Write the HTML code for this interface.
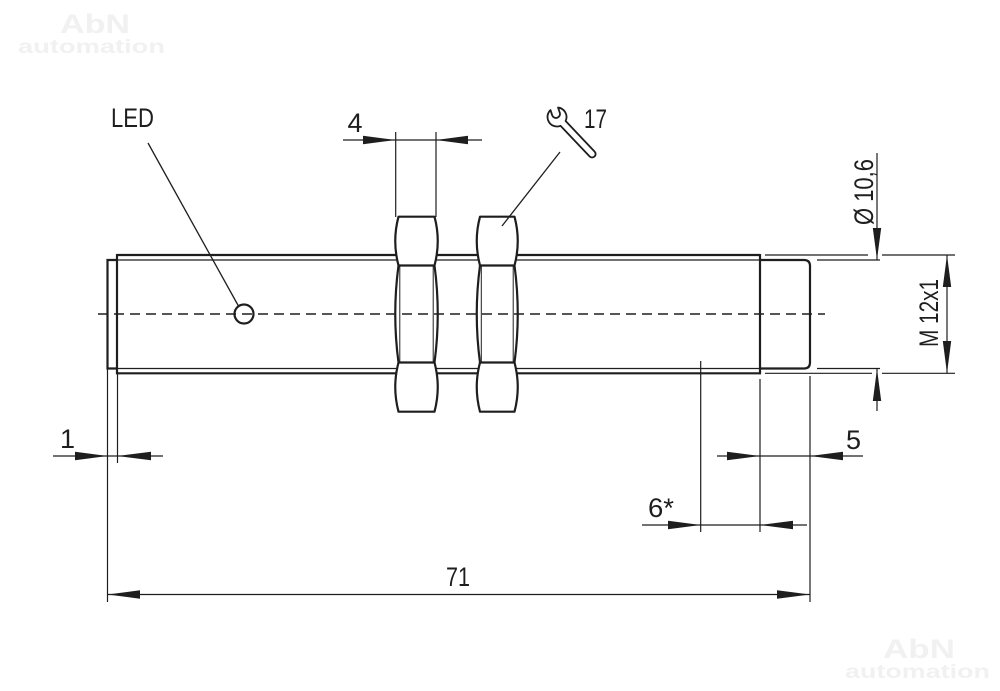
<!DOCTYPE html>
<html>
<head>
<meta charset="utf-8">
<style>
  html,body{margin:0;padding:0;background:#fff;}
  svg{display:block;}
  text{font-family:"Liberation Sans", "DejaVu Sans", sans-serif; fill:#1e1e1e;}
  .wm{fill:#f1f1f1;font-weight:bold;}
</style>
</head>
<body>
<svg width="1000" height="691" viewBox="0 0 1000 691" xmlns="http://www.w3.org/2000/svg">
  <rect x="0" y="0" width="1000" height="691" fill="#ffffff"/>

  <!-- watermarks -->
  <text class="wm" x="60" y="33" font-size="27" textLength="70" lengthAdjust="spacingAndGlyphs">AbN</text>
  <text class="wm" x="18" y="53" font-size="19" textLength="147" lengthAdjust="spacingAndGlyphs">automation</text>
  <text class="wm" x="883" y="658" font-size="27" textLength="72" lengthAdjust="spacingAndGlyphs">AbN</text>
  <text class="wm" x="845" y="678" font-size="19" textLength="145" lengthAdjust="spacingAndGlyphs">automation</text>

  <g stroke="#1e1e1e" fill="none" stroke-linecap="butt">
    <!-- body thread lines -->
    <line x1="117" y1="255" x2="760" y2="255" stroke-width="2.2"/>
    <line x1="117" y1="260" x2="760" y2="260" stroke-width="1.3"/>
    <line x1="117" y1="368.5" x2="760" y2="368.5" stroke-width="1.3"/>
    <line x1="117" y1="373.3" x2="760" y2="373.3" stroke-width="2.2"/>
    <!-- left end -->
    <line x1="117" y1="254" x2="117" y2="374.4" stroke-width="2.2"/>
    <path d="M117 260 H107.5 V368.5 H117" stroke-width="2.2"/>
    <!-- right end -->
    <line x1="760" y1="254" x2="760" y2="374.4" stroke-width="2.2"/>
    <path d="M760 260 H804 Q810 260 810 266 V362.5 Q810 368.5 804 368.5 H760" stroke-width="2.2"/>

    <!-- nuts -->
    <path d="M398.5 216.7 L434.5 216.7 Q441 241 434.5 265.5 Q441 314 434.5 362.5 Q441 387 434.5 411.7 L398.5 411.7 Q392 387 398.5 362.5 Q392 314 398.5 265.5 Q392 241 398.5 216.7 Z" fill="#fff" stroke-width="2.2" stroke-linejoin="round"/>
    <line x1="398.5" y1="265.5" x2="434.5" y2="265.5" stroke-width="2.2"/>
    <line x1="398.5" y1="362.5" x2="434.5" y2="362.5" stroke-width="2.2"/>
    <line x1="399.8" y1="266" x2="399.8" y2="362" stroke-width="1"/>
    <line x1="433.2" y1="266" x2="433.2" y2="362" stroke-width="1"/>

    <path d="M480 216.7 L514.5 216.7 Q521 241 514.5 265.5 Q521 314 514.5 362.5 Q521 387 514.5 411.7 L480 411.7 Q473.5 387 480 362.5 Q473.5 314 480 265.5 Q473.5 241 480 216.7 Z" fill="#fff" stroke-width="2.2" stroke-linejoin="round"/>
    <line x1="480" y1="265.5" x2="514.5" y2="265.5" stroke-width="2.2"/>
    <line x1="480" y1="362.5" x2="514.5" y2="362.5" stroke-width="2.2"/>
    <line x1="481.3" y1="266" x2="481.3" y2="362" stroke-width="1"/>
    <line x1="513.2" y1="266" x2="513.2" y2="362" stroke-width="1"/>

    <!-- LED -->
    <circle cx="244" cy="314" r="9.5" fill="#fff" stroke-width="2.2"/>
    <line x1="148" y1="143" x2="239" y2="307" stroke-width="1.3"/>

    <!-- centerline -->
    <line x1="98" y1="314" x2="825" y2="314" stroke-width="1.5" stroke-dasharray="10 6"/>

    <!-- 17 leader -->
    <line x1="560" y1="152" x2="502" y2="226" stroke-width="1.3"/>

    <!-- thin dimension / extension lines -->
    <g stroke-width="1.2">
      <!-- 4 -->
      <line x1="343" y1="140" x2="482" y2="140"/>
      <line x1="395.7" y1="132" x2="395.7" y2="217"/>
      <line x1="436" y1="132" x2="436" y2="217"/>
      <!-- right extension lines -->
      <line x1="765" y1="255" x2="868" y2="255"/>
      <line x1="882" y1="255" x2="955" y2="255"/>
      <line x1="817" y1="260" x2="880" y2="260"/>
      <line x1="765" y1="373.3" x2="872" y2="373.3"/>
      <line x1="882" y1="373.3" x2="955" y2="373.3"/>
      <line x1="817" y1="368.5" x2="880" y2="368.5"/>
      <!-- Ø10,6 -->
      <line x1="877" y1="153" x2="877" y2="260"/>
      <line x1="877" y1="368.5" x2="877" y2="411"/>
      <!-- M12x1 -->
      <line x1="947" y1="255" x2="947" y2="373.3"/>
      <!-- bottom ext lines -->
      <line x1="107.5" y1="369" x2="107.5" y2="602"/>
      <line x1="117.5" y1="374" x2="117.5" y2="463"/>
      <line x1="700.7" y1="361" x2="700.7" y2="532"/>
      <line x1="760" y1="379" x2="760" y2="532"/>
      <line x1="810" y1="376" x2="810" y2="602"/>
      <!-- dimension lines -->
      <line x1="53" y1="456" x2="163" y2="456"/>
      <line x1="717" y1="456" x2="863" y2="456"/>
      <line x1="642" y1="525" x2="807" y2="525"/>
      <line x1="107.5" y1="594.5" x2="810" y2="594.5"/>
    </g>
  </g>

  <!-- arrowheads -->
  <g fill="#1e1e1e" stroke="none">
    <!-- 4 -->
    <polygon points="395.7,140 363,135.8 363,144.2"/>
    <polygon points="436,140 468,135.8 468,144.2"/>
    <!-- Ø10,6 -->
    <polygon points="877,259.5 872.8,228 881.2,228"/>
    <polygon points="877,369 872.8,401 881.2,401"/>
    <!-- M12x1 -->
    <polygon points="947,255 942.8,287 951.2,287"/>
    <polygon points="947,373.3 942.8,341 951.2,341"/>
    <!-- 1 -->
    <polygon points="107.5,456 75,451.8 75,460.2"/>
    <polygon points="117.5,456 151,451.8 151,460.2"/>
    <!-- 5 -->
    <polygon points="760,456 727,451.8 727,460.2"/>
    <polygon points="810,456 843,451.8 843,460.2"/>
    <!-- 6* -->
    <polygon points="700.7,525 668,520.8 668,529.2"/>
    <polygon points="760,525 793,520.8 793,529.2"/>
    <!-- 71 -->
    <polygon points="107.5,594.5 140,590.3 140,598.7"/>
    <polygon points="810,594.5 777,590.3 777,598.7"/>
  </g>

  <!-- wrench icon -->
  <g transform="translate(557,117) rotate(46.5)">
    <path d="M8.83 -3.5 L51 -3.5 A3.5 3.5 0 0 1 51 3.5 L8.83 3.5 A9.5 9.5 0 0 1 -9.5 -0.03 L-4.41 2.35 A4 4 0 0 0 -1.03 -4.89 L-6.12 -7.27 A9.5 9.5 0 0 1 8.83 -3.5 Z" fill="#fff" stroke="#1e1e1e" stroke-width="1.8" stroke-linejoin="round"/>
  </g>

  <!-- labels -->
  <text x="111" y="127" font-size="27" textLength="43" lengthAdjust="spacingAndGlyphs">LED</text>
  <text x="347.5" y="132" font-size="27">4</text>
  <text x="584" y="128" font-size="27" textLength="23" lengthAdjust="spacingAndGlyphs">17</text>
  <text x="60" y="448" font-size="27">1</text>
  <text x="846" y="449" font-size="27">5</text>
  <text x="648" y="517" font-size="27" textLength="26" lengthAdjust="spacingAndGlyphs">6*</text>
  <text x="446" y="586" font-size="27" textLength="24" lengthAdjust="spacingAndGlyphs">71</text>
  <text transform="translate(873,225) rotate(-90)" x="0" y="0" font-size="27" textLength="66" lengthAdjust="spacingAndGlyphs">Ø 10,6</text>
  <text transform="translate(938,347) rotate(-90)" x="0" y="0" font-size="27" textLength="68" lengthAdjust="spacingAndGlyphs">M 12x1</text>
</svg>
</body>
</html>
